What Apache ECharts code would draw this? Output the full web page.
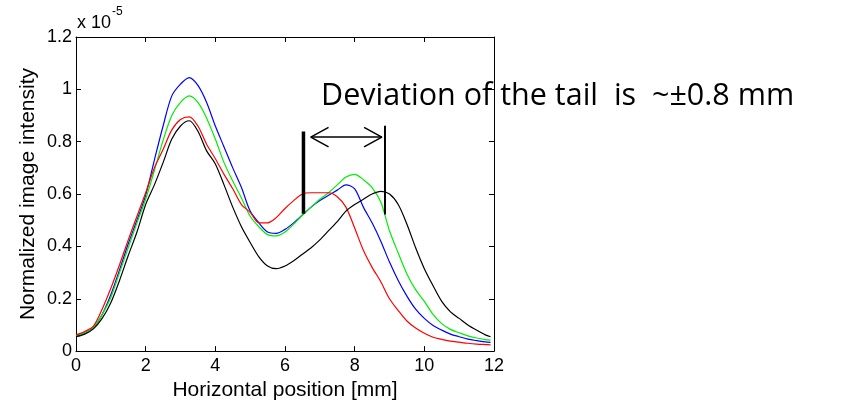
<!DOCTYPE html>
<html><head><meta charset="utf-8">
<script src="https://cdn.jsdelivr.net/npm/echarts@6/dist/echarts.min.js"></script>
<style>html,body{margin:0;padding:0;background:#fff}#c{width:841px;height:406px}</style>
</head><body><div id="c"></div>
<script>
// Horizontal position [mm]
const xPos = [0,0.25,0.5,0.75,1.0,1.25,1.5,1.75,2.0,2.25,2.5,2.75,3.0,3.25,3.5,3.75,4.0,4.25,4.5,4.75,5.0,5.25,5.5,5.75,6.0,6.25,6.5,6.75,7.0,7.25,7.5,7.75,8.0,8.25,8.5,8.75,9.0,9.25,9.5,9.75,10.0,10.25,10.5,10.75,11.0,11.25,11.5,11.75,11.9];
// Normalized image intensity (x 10^-5)
const blueVals  = [0.058,0.07,0.09,0.14,0.215,0.31,0.41,0.50,0.595,0.73,0.86,0.975,1.02,1.045,1.015,0.95,0.86,0.78,0.70,0.625,0.535,0.49,0.455,0.45,0.465,0.49,0.52,0.55,0.575,0.595,0.615,0.635,0.62,0.55,0.49,0.42,0.34,0.27,0.21,0.16,0.125,0.098,0.08,0.065,0.055,0.046,0.04,0.035,0.033];
const greenVals = [0.058,0.07,0.09,0.14,0.205,0.30,0.395,0.49,0.58,0.69,0.805,0.90,0.95,0.975,0.95,0.89,0.81,0.72,0.65,0.585,0.515,0.475,0.445,0.44,0.455,0.485,0.52,0.55,0.58,0.605,0.635,0.665,0.675,0.655,0.625,0.57,0.46,0.375,0.295,0.235,0.19,0.14,0.105,0.083,0.07,0.058,0.05,0.044,0.042];
const redVals   = [0.062,0.075,0.095,0.16,0.24,0.33,0.425,0.515,0.605,0.70,0.77,0.845,0.885,0.895,0.86,0.79,0.735,0.675,0.62,0.56,0.53,0.49,0.49,0.51,0.545,0.575,0.60,0.605,0.605,0.605,0.59,0.55,0.47,0.385,0.32,0.265,0.20,0.155,0.115,0.088,0.068,0.053,0.045,0.038,0.034,0.03,0.027,0.025,0.024];
const blackVals = [0.055,0.065,0.085,0.125,0.185,0.27,0.365,0.455,0.56,0.635,0.72,0.81,0.86,0.88,0.84,0.765,0.715,0.635,0.55,0.475,0.415,0.36,0.325,0.315,0.325,0.345,0.37,0.395,0.425,0.46,0.495,0.535,0.56,0.58,0.60,0.61,0.60,0.56,0.485,0.395,0.315,0.25,0.19,0.15,0.125,0.10,0.08,0.062,0.055];
// Annotation marks (data coordinates)
const leftBar  = [[6.53,0.525],[6.53,0.839]];
const rightBar = [[8.87,0.522],[8.87,0.861]];
const arrowShaft = [[6.74,0.8175],[8.78,0.8175]];
const arrowHeadL = [[7.25,0.855],[6.74,0.8175],[7.25,0.78]];
const arrowHeadR = [[8.27,0.855],[8.78,0.8175],[8.27,0.78]];
const annotationText = 'Deviation of the tail  is  ~±0.8 mm';

const pair = v => xPos.map((x,i)=>[x,v[i]]);
const lineS = (name,data,color,w,sm) => ({name,type:'line',data,showSymbol:false,symbol:'none',smooth:sm||false,lineStyle:{color,width:w},itemStyle:{color},animation:false,silent:true,z:3});

const chart = echarts.init(document.getElementById('c'));
const tickStyle = {show:true,inside:true,length:5,lineStyle:{color:'#000',width:1}};
const axisFont = {fontFamily:'Liberation Sans, Arial, sans-serif',fontSize:18,color:'#000'};
chart.setOption({
  animation:false,
  grid:{left:76,right:347,top:37,bottom:51,containLabel:false},
  xAxis:[
    {type:'value',min:0,max:12,interval:2,position:'bottom',
     axisLine:{show:true,onZero:false,lineStyle:{color:'#000',width:1}},
     axisTick:tickStyle,splitLine:{show:false},
     axisLabel:Object.assign({margin:6},axisFont),
     name:'Horizontal position [mm]',nameLocation:'middle',nameGap:20,
     nameTextStyle:{fontFamily:'Liberation Sans, Arial, sans-serif',fontSize:21,color:'#000'}},
    {type:'value',min:0,max:12,interval:2,position:'top',
     axisLine:{show:true,onZero:false,lineStyle:{color:'#000',width:1}},
     axisTick:tickStyle,splitLine:{show:false},axisLabel:{show:false}}
  ],
  yAxis:[
    {type:'value',min:0,max:1.2,interval:0.2,position:'left',
     axisLine:{show:true,onZero:false,lineStyle:{color:'#000',width:1}},
     axisTick:tickStyle,splitLine:{show:false},
     axisLabel:Object.assign({margin:4,formatter:v=>String(+v.toFixed(1))},axisFont),
     name:'Normalized image intensity',nameLocation:'middle',nameGap:37,
     nameTextStyle:{fontFamily:'Liberation Sans, Arial, sans-serif',fontSize:21,color:'#000'}},
    {type:'value',min:0,max:1.2,interval:0.2,position:'right',
     axisLine:{show:true,onZero:false,lineStyle:{color:'#000',width:1}},
     axisTick:tickStyle,splitLine:{show:false},axisLabel:{show:false}}
  ],
  series:[
    lineS('blue',pair(blueVals),'#0000ff',1.2,0.3),
    lineS('green',pair(greenVals),'#00ee00',1.2,0.3),
    lineS('red',pair(redVals),'#ff0000',1.2,0.3),
    lineS('black',pair(blackVals),'#000000',1.2,0.3),
    lineS('leftBar',leftBar,'#000',3.5),
    lineS('rightBar',rightBar,'#000',2),
    lineS('shaft',arrowShaft,'#000',1.5),
    lineS('headL',arrowHeadL,'#000',1.5),
    lineS('headR',arrowHeadR,'#000',1.5)
  ],
  graphic:[
    {type:'text',x:77,y:14,style:{text:'x 10',font:'18px "Liberation Sans", Arial, sans-serif',fill:'#000'}},
    {type:'text',x:112,y:6,style:{text:'-5',font:'12px "Liberation Sans", Arial, sans-serif',fill:'#000'}},
    {type:'text',x:321,y:81,z:10,style:{text:annotationText,font:'30.5px "Open Sans", sans-serif',fill:'#000'}}
  ]
});
</script></body></html>
